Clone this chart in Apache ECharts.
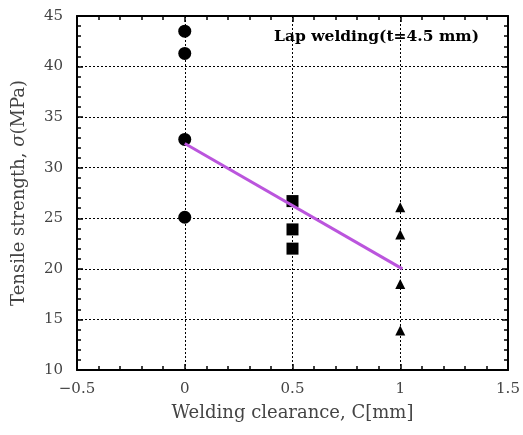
<!DOCTYPE html>
<html>
<head>
<meta charset="utf-8">
<script src="https://cdn.jsdelivr.net/npm/echarts@6/dist/echarts.min.js"></script>
<style>
  html, body { margin: 0; padding: 0; background: #fff; }
  #main { width: 523px; height: 435px; }
</style>
</head>
<body>
<div id="main"></div>
<script>
// data
var circlePts = [[0, 43.5], [0, 41.3], [0, 32.8], [0, 25.1]];
var squarePts = [[0.5, 26.7], [0.5, 23.9], [0.5, 22.0]];
var trianglePts = [[1, 26.1], [1, 23.4], [1, 18.5], [1, 13.9]];
var fitLine = [[0, 32.4], [1.01, 20.0]];

var FONT = "'DejaVu Serif', 'Liberation Serif', serif";

var myChart = echarts.init(document.getElementById("main"));

var baseX = {
  type: "value",
  min: -0.5,
  max: 1.5,
  interval: 0.5,
  axisLine: { show: true, onZero: false, lineStyle: { color: "#000", width: 2 } },
  axisTick: { show: true, inside: true, length: 6, lineStyle: { color: "#000", width: 1.5 } },
  minorTick: { show: true, splitNumber: 5, length: 4, lineStyle: { color: "#000", width: 1.5 } },
  splitLine: { show: false }
};
var baseY = {
  type: "value",
  min: 10,
  max: 45,
  interval: 5,
  axisLine: { show: true, onZero: false, lineStyle: { color: "#000", width: 2 } },
  axisTick: { show: true, inside: true, length: 6, lineStyle: { color: "#000", width: 1.5 } },
  minorTick: { show: true, splitNumber: 5, length: 4, lineStyle: { color: "#000", width: 1.5 } },
  splitLine: { show: false }
};

myChart.setOption({
  backgroundColor: "#fff",
  animation: false,
  textStyle: { fontFamily: FONT },
  grid: { left: 77, right: 15, top: 16, bottom: 65 },
  graphic: [
    {
      type: "text",
      left: 274,
      top: 29,
      z: 10,
      style: {
        text: "Lap welding(t=4.5 mm)",
        font: "bold 15.5px " + FONT,
        fill: "#000"
      }
    }
  ],
  xAxis: [
    Object.assign({}, baseX, {
      position: "bottom",
      name: "Welding clearance, C[mm]",
      nameLocation: "middle",
      nameGap: 34,
      nameTextStyle: { fontSize: 18, color: "#444", fontFamily: FONT },
      axisLabel: {
        fontSize: 15,
        color: "#444",
        margin: 12,
        fontFamily: FONT,
        formatter: function (v) { return v < 0 ? "\u2212" + Math.abs(v) : String(v); }
      },
      splitLine: { show: true, lineStyle: { color: "#000", type: [2, 2], width: 1 } }
    }),
    Object.assign({}, baseX, { position: "top", axisLabel: { show: false } })
  ],
  yAxis: [
    Object.assign({}, baseY, {
      position: "left",
      name: "{n|Tensile strength, }{s|\u03c3}{n|(MPa)}",
      nameLocation: "middle",
      nameGap: 49,
      nameTextStyle: {
        color: "#444",
        rich: {
          n: { fontSize: 18, color: "#444", fontFamily: FONT },
          s: { fontSize: 18, color: "#444", fontFamily: FONT, fontStyle: "italic" }
        }
      },
      axisLabel: { fontSize: 15, color: "#444", margin: 14, fontFamily: FONT },
      splitLine: { show: true, lineStyle: { color: "#000", type: [2, 2], width: 1 } }
    }),
    Object.assign({}, baseY, { position: "right", axisLabel: { show: false } })
  ],
  series: [
    {
      type: "scatter",
      symbol: "circle",
      symbolSize: 13,
      itemStyle: { color: "#000", opacity: 1 },
      data: circlePts,
      z: 2
    },
    {
      type: "scatter",
      symbol: "rect",
      symbolSize: 12,
      itemStyle: { color: "#000", opacity: 1 },
      data: squarePts,
      z: 2
    },
    {
      type: "scatter",
      symbol: "triangle",
      symbolSize: 10,
      itemStyle: { color: "#000", opacity: 1 },
      data: trianglePts,
      z: 2
    },
    {
      type: "line",
      data: fitLine,
      showSymbol: false,
      symbol: "none",
      lineStyle: { color: "#bb55dd", width: 3 },
      z: 3
    }
  ]
});
</script>
</body>
</html>
